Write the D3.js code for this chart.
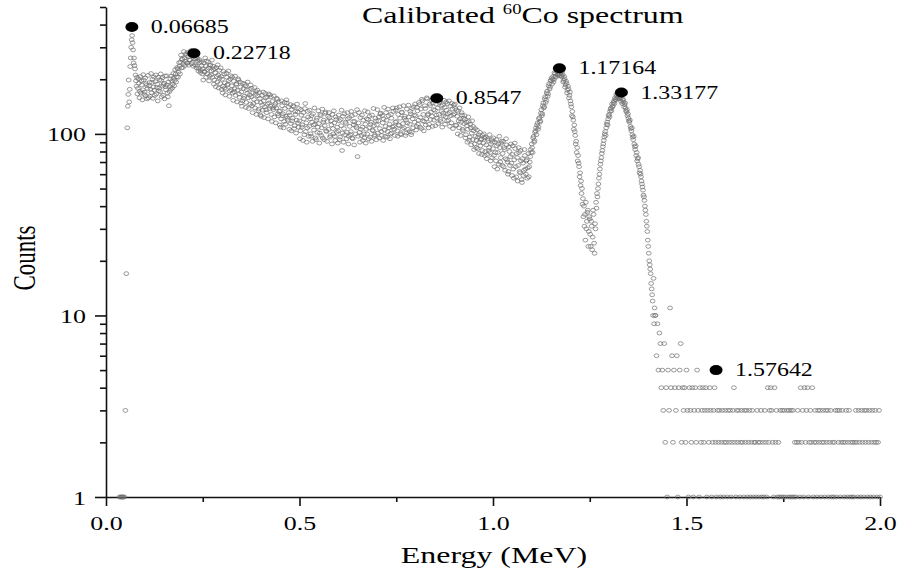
<!DOCTYPE html>
<html>
<head>
<meta charset="utf-8">
<script src="https://cdn.jsdelivr.net/npm/d3@7"></script>
<style>
  body { margin: 0; background: #fff; }
  svg text { font-family: "Liberation Serif", "Times New Roman", serif; fill: #000; white-space: pre; }
</style>
</head>
<body>
<svg id="chart" width="901" height="577"></svg>
<script>
// MCA calibration: each segment is a run of channels starting at segStarts[k],
// segSteps[k] MeV apart (the tail was binned twice as coarse)
const FINE = 0.00125, COARSE = 0.0025;
const segStarts = [0.035, 0.25, 0.5, 0.75, 1.0, 1.25, 1.42];
const segSteps = [FINE, FINE, FINE, FINE, FINE, FINE, COARSE];

// 0.035 - 0.249 MeV (x-ray peak + backscatter)
const seg0 = [
  1, 0, 1, 0, 1, 1, 1, 0, 1, 0, 1, 0, 3, 0, 17, 0, 108, 142, 165, 198,
  150, 176, 235, 262, 300, 330, 348, 318, 290, 246, 262, 238, 228, 211, 196, 183, 205, 166, 178, 201,
  190, 158, 172, 207, 168, 196, 186, 154, 175, 212, 198, 165, 170, 203, 162, 189, 185, 156, 178, 210,
  158, 184, 192, 161, 176, 215, 169, 192, 200, 157, 181, 206, 174, 163, 194, 211, 166, 180, 188, 152,
  205, 173, 179, 199, 171, 214, 197, 160, 183, 204, 163, 187, 190, 156, 208, 182, 175, 209, 186, 168,
  160, 193, 143, 171, 182, 201, 176, 208, 195, 179, 188, 215, 203, 184, 197, 226, 214, 193, 206, 232,
  228, 205, 219, 247, 236, 214, 248, 272, 231, 259, 257, 232, 244, 284, 262, 238, 251, 276, 270, 246,
  245, 281, 266, 239, 278, 256, 255, 287, 272, 243, 248, 274, 268, 236, 259, 280, 240, 258, 263, 231,
  236, 261, 252, 222, 229, 256, 247, 218, 224, 250, 238, 214
];
// 0.25 - 0.499 MeV
const seg1 = [
  228, 198, 246, 221, 219, 262, 237, 205, 252, 226, 214, 249, 231, 196, 208, 238, 240, 212, 222, 255,
  205, 236, 226, 188, 198, 229, 217, 182, 232, 207, 193, 240, 211, 179, 224, 203, 189, 231, 207, 176,
  200, 168, 183, 221, 214, 179, 191, 164, 176, 216, 205, 186, 188, 222, 197, 161, 172, 201, 209, 175,
  184, 206, 168, 153, 195, 171, 177, 208, 163, 187, 189, 150, 174, 201, 198, 166, 159, 193, 181, 148,
  170, 142, 152, 190, 178, 157, 161, 188, 184, 140, 149, 175, 167, 193, 158, 138, 176, 164, 146, 186,
  160, 178, 143, 131, 168, 147, 155, 180, 139, 165, 171, 128, 150, 174, 162, 134, 137, 169, 157, 127,
  149, 125, 163, 144, 135, 170, 152, 123, 141, 167, 158, 136, 131, 160, 146, 121, 166, 148, 138, 164,
  142, 160, 128, 117, 151, 139, 136, 162, 124, 143, 147, 115, 139, 157, 155, 129, 126, 150, 133, 112,
  134, 109, 121, 152, 143, 126, 129, 108, 117, 149, 138, 113, 125, 154, 148, 122, 119, 141, 131, 106,
  127, 145, 114, 104, 136, 118, 122, 143, 141, 107, 111, 133, 128, 101, 119, 146, 132, 115, 109, 138
];
// 0.5 - 0.749 MeV
const seg2 = [
  118, 94, 104, 136, 127, 109, 112, 92, 131, 121, 99, 138, 147, 103, 115, 90, 108, 133, 124, 97,
  110, 135, 121, 100, 97, 126, 116, 91, 129, 112, 105, 139, 113, 95, 93, 119, 122, 102, 109, 134,
  114, 89, 101, 128, 126, 98, 108, 137, 95, 116, 119, 93, 111, 130, 132, 104, 103, 91, 117, 125,
  106, 131, 123, 96, 98, 118, 112, 88, 128, 107, 100, 134, 115, 97, 92, 124, 120, 102, 109, 89,
  104, 127, 118, 93, 96, 120, 111, 135, 81, 101, 125, 90, 107, 129, 99, 116, 114, 94, 102, 131,
  121, 88, 97, 123, 110, 99, 103, 133, 126, 95, 94, 117, 112, 87, 117, 128, 100, 110, 108, 136,
  75, 97, 115, 131, 102, 90, 123, 106, 98, 127, 109, 92, 119, 100, 95, 134, 113, 89, 106, 121,
  100, 132, 120, 94, 108, 125, 96, 113, 116, 91, 127, 105, 104, 138, 111, 97, 99, 122, 118, 93,
  112, 136, 101, 118, 124, 95, 107, 129, 130, 103, 98, 126, 115, 92, 121, 140, 105, 97, 110, 131,
  119, 96, 103, 137, 126, 108, 113, 94, 100, 128, 122, 101, 109, 139, 133, 110, 106, 98, 116, 135
];
// 0.75 - 0.999 MeV (Compton edge)
const seg3 = [
  117, 139, 104, 97, 128, 112, 111, 141, 122, 100, 99, 132, 131, 106, 114, 143, 108, 122, 125, 98,
  119, 101, 137, 115, 106, 144, 124, 103, 113, 133, 129, 99, 102, 138, 121, 108, 141, 127, 116, 146,
  126, 105, 110, 140, 134, 113, 119, 149, 145, 109, 123, 137, 107, 155, 152, 118, 128, 104, 117, 143,
  138, 112, 121, 158, 156, 127, 129, 108, 113, 146, 143, 120, 132, 153, 125, 110, 148, 136, 119, 157,
  135, 111, 146, 127, 122, 155, 139, 114, 128, 149, 151, 120, 117, 142, 133, 109, 144, 130, 126, 153,
  140, 113, 124, 150, 135, 118, 147, 129, 119, 152, 131, 110, 142, 126, 115, 147, 137, 107, 127, 144,
  129, 146, 138, 111, 112, 135, 125, 100, 133, 118, 108, 139, 121, 98, 116, 131, 127, 106, 104, 122,
  114, 126, 120, 95, 99, 116, 111, 90, 106, 124, 117, 92, 96, 113, 108, 87, 101, 118, 93, 110,
  104, 82, 88, 107, 97, 84, 92, 105, 83, 96, 99, 78, 90, 102, 86, 93, 94, 77, 81, 98,
  89, 100, 95, 76, 80, 96, 87, 73, 77, 94, 92, 81, 84, 99, 79, 71, 88, 93, 74, 90
];
// 1.0 - 1.249 MeV (1.17 MeV photopeak)
const seg4 = [
  83, 95, 76, 66, 90, 79, 71, 93, 86, 64, 79, 88, 68, 97, 84, 70, 74, 89, 91, 67,
  78, 91, 66, 84, 82, 63, 73, 94, 87, 72, 70, 60, 62, 85, 80, 67, 75, 88, 69, 59,
  77, 86, 64, 57, 72, 89, 83, 66, 58, 78, 74, 55, 67, 84, 79, 62, 61, 81, 71, 56,
  54, 73, 69, 59, 63, 82, 76, 64, 60, 71, 72, 57, 65, 78, 58, 66, 70, 75, 82, 79,
  88, 84, 79, 95, 97, 90, 92, 102, 104, 108, 99, 112, 115, 106, 109, 121, 123, 116, 118, 130,
  136, 126, 129, 143, 148, 139, 141, 156, 160, 149, 153, 168, 172, 161, 166, 184, 189, 177, 181, 197,
  196, 203, 188, 200, 207, 193, 199, 217, 214, 208, 205, 224, 221, 213, 211, 229, 226, 209, 214, 222,
  218, 210, 206, 221, 212, 193, 197, 207, 201, 181, 186, 195, 190, 168, 174, 183, 177, 158, 163, 170,
  152, 146, 141, 126, 133, 124, 119, 106, 112, 103, 98, 88, 91, 79, 84, 71, 76, 69, 66, 58,
  61, 52, 55, 47, 50, 41, 44, 35, 40, 31, 36, 26, 42, 30, 33, 37, 38, 24, 29, 35
];
// 1.25 - 1.419 MeV (1.33 MeV photopeak)
const seg5 = [
  34, 28, 24, 33, 31, 23, 27, 38, 36, 25, 22, 32, 30, 42, 39, 47, 45, 50, 53, 57,
  60, 64, 68, 71, 74, 78, 81, 85, 88, 92, 96, 100, 103, 98, 108, 113, 116, 112, 121, 126,
  128, 124, 133, 137, 139, 134, 146, 141, 143, 149, 152, 147, 158, 155, 154, 165, 162, 157, 159, 168,
  166, 156, 161, 164, 158, 151, 163, 147, 154, 155, 150, 141, 145, 148, 139, 134, 132, 136, 126, 129,
  122, 118, 116, 119, 110, 107, 104, 108, 99, 96, 93, 97, 88, 85, 82, 86, 76, 79, 71, 73,
  74, 68, 66, 61, 63, 60, 58, 55, 53, 51, 49, 46, 45, 43, 40, 38, 36, 33, 31, 29,
  26, 24, 22, 20, 19, 18, 17, 15, 14, 13, 12, 10, 16, 9, 11, 10
];
// 1.42 - 2.0 MeV (pile-up tail)
const seg6 = [
  10, 6, 9, 5, 8, 7, 4, 5, 3, 7,
  2, 4, 1, 5, 3, 11, 4, 6, 2, 5,
  4, 3, 6, 1, 4, 5, 7, 2, 4, 3,
  4, 2, 5, 3, 1, 4, 3, 2, 4, 1,
  3, 4, 2, 5, 3, 1, 4, 2, 3, 4,
  2, 3, 4, 1, 3, 2, 4, 3, 1, 2,
  3, 4, 2, 1, 3, 2, 3, 1, 2, 3,
  1, 2, 3, 2, 1, 3, 2, 3, 1, 2,
  3, 4, 2, 1, 3, 2, 3, 1, 2, 3,
  2, 1, 3, 2, 3, 1, 2, 3, 1, 2,
  3, 1, 2, 2, 1, 3, 2, 1, 2, 3,
  1, 2, 1, 3, 2, 1, 4, 2, 3, 4,
  3, 2, 1, 4, 2, 3, 1, 2, 1, 3,
  1, 3, 1, 3, 1, 0, 3, 1, 3, 1,
  3, 1, 3, 1, 2, 1, 2, 3, 2, 1,
  4, 2, 3, 1, 4, 2, 3, 4, 1, 2,
  3, 2, 4, 1, 2, 3, 2, 1, 3, 2,
  3, 1, 2, 3, 2, 1, 3, 2, 3, 1,
  2, 3, 1, 2, 1, 2, 3, 1, 3, 2,
  3, 1, 2, 3, 2, 1, 2, 3, 1, 2,
  3, 1, 2, 1, 2, 1, 2, 3, 2, 1,
  3, 2, 1, 3, 2, 1, 3, 2, 3, 1,
  2, 3, 1, 2, 3, 1, 2, 3, 2, 1,
  2, 3, 1
];

// fitted peaks (MeV) and their heights
const peakEnergies = [0.06685, 0.22718, 0.8547, 1.17164, 1.33177, 1.57642];
const peakCounts = [388, 278, 157, 230, 169, 5];

const xTickValues = [0, 0.25, 0.5, 0.75, 1.0, 1.25, 1.5, 1.75, 2.0];
const xTickLabels = ["0.0", "", "0.5", "", "1.0", "", "1.5", "", "2.0"];
const yTickValues = [1, 2, 3, 4, 5, 6, 7, 8, 9, 10, 20, 30, 40, 50, 60, 70, 80, 90, 100, 200, 300, 400, 500];
const yMajor = [1, 10, 100];

const SX = 1.33; // the source image is stretched sideways

const spectrum = [seg0, seg1, seg2, seg3, seg4, seg5, seg6].flatMap((seg, k) =>
  seg.map((c, i) => ({ e: segStarts[k] + i * segSteps[k], c: c }))
).filter(d => d.c > 0);

const svg = d3.select("#chart");

const x = d3.scaleLinear().domain([0, 2]).range([106, 880]);
const y = d3.scaleLog().domain([1, 500]).range([497, 7]);

// axes
const gx = svg.append("g")
  .attr("transform", `translate(0,${y(1)})`)
  .call(d3.axisBottom(x).tickValues(xTickValues).tickSizeOuter(0)
    .tickFormat((d, i) => xTickLabels[i]));
gx.selectAll(".tick line").attr("y2", (d, i) => xTickLabels[i] ? 9 : 5);
gx.selectAll(".tick text")
  .attr("y", 0).attr("dy", 0)
  .attr("transform", `translate(0,33) scale(${SX},1)`)
  .style("font-size", "19.5px");

const gy = svg.append("g")
  .attr("transform", `translate(${x(0)},0)`)
  .call(d3.axisLeft(y).tickValues(yTickValues).tickSizeOuter(0)
    .tickFormat(d => yMajor.includes(d) ? String(d) : ""));
gy.selectAll(".tick line").attr("x2", d => yMajor.includes(d) ? -11 : -6);
gy.selectAll(".tick text")
  .attr("x", 0).attr("dy", 0)
  .attr("transform", `translate(-20,7) scale(${SX},1)`)
  .style("font-size", "19.5px");

svg.selectAll(".domain, .tick line").attr("stroke", "#111").attr("stroke-width", 1.6);

// spectrum
svg.append("g")
  .selectAll("ellipse")
  .data(spectrum)
  .join("ellipse")
  .attr("cx", d => x(d.e))
  .attr("cy", d => y(d.c))
  .attr("rx", 2.4)
  .attr("ry", 1.9)
  .attr("fill", "none")
  .attr("stroke", "#6f6f6f")
  .attr("stroke-width", 0.7);

// peak markers and labels
const peaks = peakEnergies.map((e, i) => ({ e: e, c: peakCounts[i] }));
svg.append("g").selectAll("ellipse")
  .data(peaks)
  .join("ellipse")
  .attr("cx", d => x(d.e))
  .attr("cy", d => y(d.c))
  .attr("rx", 6.5)
  .attr("ry", 5)
  .attr("fill", "#000");
svg.append("g").selectAll("text")
  .data(peaks)
  .join("text")
  .attr("transform", d => `translate(${x(d.e) + 19},${y(d.c) + 6}) scale(${SX},1)`)
  .style("font-size", "18px")
  .text(d => String(d.e));

// titles
const title = svg.append("text")
  .attr("transform", `translate(362,23) scale(${SX},1)`)
  .style("font-size", "24px");
title.append("tspan").text("Calibrated ");
title.append("tspan").attr("dy", -9).style("font-size", "14px").text("60");
title.append("tspan").attr("dy", 9).text("Co spectrum");

svg.append("text")
  .attr("transform", `translate(494,563) scale(${SX},1)`)
  .attr("text-anchor", "middle")
  .style("font-size", "24px")
  .text("Energy (MeV)");

svg.append("text")
  .attr("transform", `translate(35,258) scale(${SX},1) rotate(-90)`)
  .attr("text-anchor", "middle")
  .style("font-size", "23px")
  .text("Counts");
</script>
</body>
</html>
